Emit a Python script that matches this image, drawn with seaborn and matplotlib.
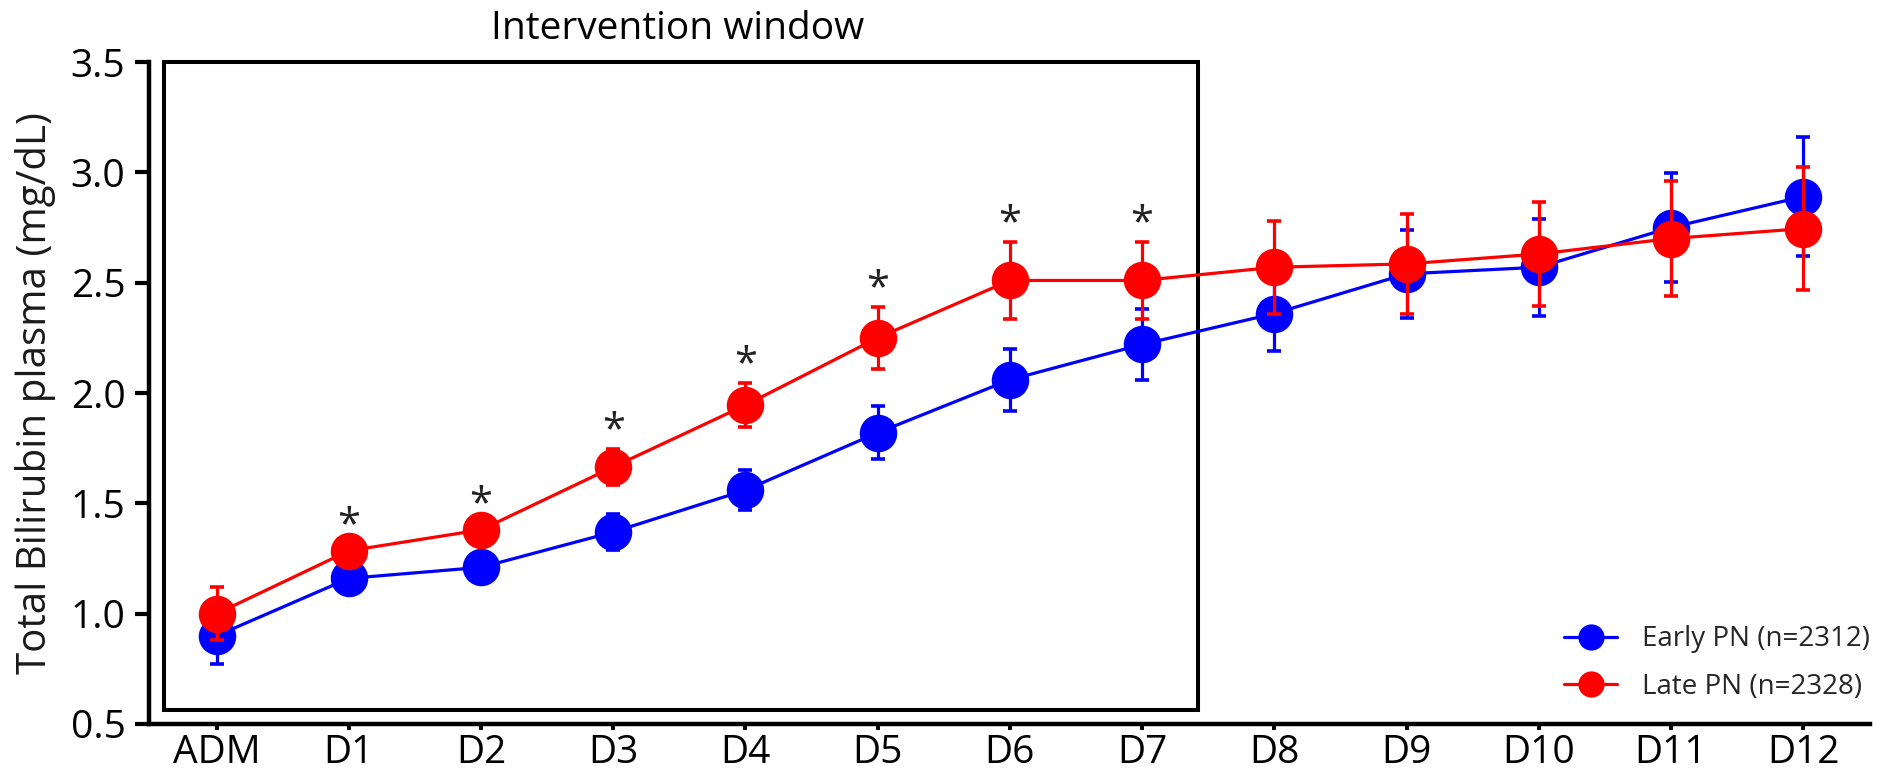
import matplotlib
matplotlib.use("Agg")
import matplotlib.pyplot as plt
from matplotlib.patches import Rectangle
import numpy as np
import pandas as pd
import seaborn as sns

# ---- data ----
days = ["ADM", "D1", "D2", "D3", "D4", "D5", "D6", "D7", "D8", "D9", "D10", "D11", "D12"]
early_label = "Early PN (n=2312)"
late_label = "Late PN (n=2328)"
early_mean = [0.90, 1.16, 1.21, 1.37, 1.56, 1.82, 2.06, 2.22, 2.36, 2.54, 2.57, 2.75, 2.89]
early_err = [0.13, 0.03, 0.03, 0.08, 0.09, 0.12, 0.14, 0.16, 0.17, 0.20, 0.22, 0.245, 0.27]
late_mean = [1.00, 1.285, 1.38, 1.665, 1.945, 2.25, 2.51, 2.51, 2.57, 2.585, 2.63, 2.70, 2.745]
late_err = [0.12, 0.03, 0.03, 0.08, 0.10, 0.14, 0.175, 0.175, 0.21, 0.225, 0.235, 0.26, 0.28]
significant = ["D1", "D2", "D3", "D4", "D5", "D6", "D7"]
window_title = "Intervention window"
window_days = ("ADM", "D7")
y_label = "Total Bilirubin plasma (mg/dL)"
y_ticks = [0.5, 1.0, 1.5, 2.0, 2.5, 3.0, 3.5]

sns.set_style("ticks")
plt.rcParams["font.family"] = ["Open Sans", "DejaVu Sans"]

x = np.arange(len(days))
df = pd.DataFrame({
    "x": np.concatenate([x, x]),
    "value": early_mean + late_mean,
    "err": early_err + late_err,
    "group": [early_label] * len(days) + [late_label] * len(days),
})

W, H = 1877, 778
fig = plt.figure(figsize=(W / 100, H / 100), dpi=100)
ax = fig.add_axes([149 / W, (H - 724) / H, (1870 - 149) / W, (724 - 62) / H])

colors = {early_label: "#0000FF", late_label: "#FF0000"}
z = 2
for grp in [early_label, late_label]:
    sub = df[df["group"] == grp]
    ax.errorbar(sub["x"], sub["value"], yerr=sub["err"], fmt="none",
                ecolor=colors[grp], elinewidth=2.3, capsize=5, capthick=2.6,
                zorder=z)
    sns.lineplot(data=sub, x="x", y="value", color=colors[grp], label=grp,
                 marker="o", markersize=27, markeredgewidth=0, linewidth=2.3,
                 errorbar=None, ax=ax, zorder=z + 1)
    z += 2

# significance asterisks
for d in significant:
    i = days.index(d)
    ax.text(i, late_mean[i] + late_err[i] + 0.03, "*", ha="center", va="baseline",
            fontsize=30, color="#222222")

# intervention window box
x0 = days.index(window_days[0]) - 0.40
x1 = days.index(window_days[1]) + 0.425
rect = Rectangle((x0, 0.563), x1 - x0, 3.5 - 0.563, fill=False, lw=2.9,
                 edgecolor="black", clip_on=False, joinstyle="miter", zorder=1)
ax.add_patch(rect)
fig.text(678 / W, 1 - 39 / H, window_title, ha="center", va="baseline",
         fontsize=28, color="black")

ax.set_xlim(-0.512, 12.506)
ax.set_ylim(0.5, 3.5)
ax.set_xticks(x)
ax.set_xticklabels(days)
ax.set_yticks(y_ticks)
ax.set_yticklabels([f"{t:.1f}" for t in y_ticks])
ax.set_xlabel("")
ax.set_ylabel(y_label, fontsize=29, color="#1a1a1a")
ax.yaxis.set_label_coords(-0.054, 0.5)

for side in ["top", "right"]:
    ax.spines[side].set_visible(False)
for side in ["left", "bottom"]:
    ax.spines[side].set_linewidth(3.2)
    ax.spines[side].set_color("black")
ax.tick_params(axis="y", length=10, width=3, pad=7, labelsize=28, colors="black")
ax.tick_params(axis="x", length=4.5, width=2.8, pad=3, labelsize=28, colors="black")

leg = ax.legend(loc="lower right", bbox_to_anchor=(1.0, 0.035), frameon=False,
                fontsize=20, markerscale=0.7, handlelength=1.9, handletextpad=0.9,
                labelspacing=0.7, borderpad=0, borderaxespad=0)

fig.savefig("out.png", dpi=100)
